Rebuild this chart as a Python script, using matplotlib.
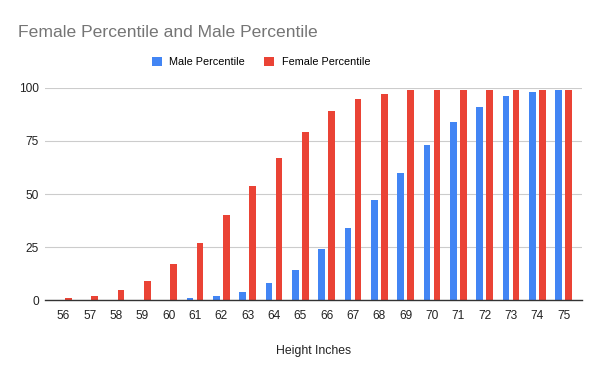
import numpy as np
import matplotlib
matplotlib.use('Agg')
import matplotlib.pyplot as plt

plt.rcParams['font.family'] = ['Liberation Sans', 'DejaVu Sans']

heights = [56, 57, 58, 59, 60, 61, 62, 63, 64, 65, 66, 67, 68, 69, 70, 71, 72, 73, 74, 75]
male = [0, 0, 0, 0, 0, 1, 2, 4, 8, 14, 24, 34, 47, 60, 73, 84, 91, 96, 98, 99]
female = [1, 2, 5, 9, 17, 27, 40, 54, 67, 79, 89, 95, 97, 99, 99, 99, 99, 99, 99, 99]

BLUE = '#4285F4'
RED = '#EA4335'

fig = plt.figure(figsize=(6, 3.71), dpi=100)
ax = fig.add_axes([0.075, 0.191, 0.895, 0.572])

x = np.arange(len(heights))
w = 0.25
ax.bar(x - 0.19, male, width=w, color=BLUE, label='Male Percentile', zorder=3)
ax.bar(x + 0.19, female, width=w, color=RED, label='Female Percentile', zorder=3)

ax.set_xlim(-0.7, len(heights) - 0.3)
ax.set_ylim(0, 100)
ax.set_yticks([0, 25, 50, 75, 100])
ax.set_xticks(x)
ax.set_xticklabels([str(h) for h in heights])
ax.tick_params(axis='both', length=0, labelsize=8.6, colors='#222222')
ax.tick_params(axis='y', pad=4.5)
ax.tick_params(axis='x', pad=7)
ax.grid(axis='y', color='#cccccc', linewidth=0.8, zorder=0)
for s in ['top', 'right', 'left']:
    ax.spines[s].set_visible(False)
ax.spines['bottom'].set_color('#333333')
ax.spines['bottom'].set_linewidth(1)
ax.spines['bottom'].set_zorder(4)

ax.set_xlabel('Height Inches', fontsize=8.8, color='#222222', labelpad=17)

fig.text(0.03, 0.913, 'Female Percentile and Male Percentile', fontsize=12.6,
         color='#757575', ha='left', va='center')
fig.legend(loc='center', bbox_to_anchor=(0.435, 0.833), ncol=2, frameon=False,
           fontsize=7.8, handlelength=0.9, handleheight=0.9, columnspacing=1.8,
           handletextpad=0.7)

fig.savefig('out.png', dpi=100)
